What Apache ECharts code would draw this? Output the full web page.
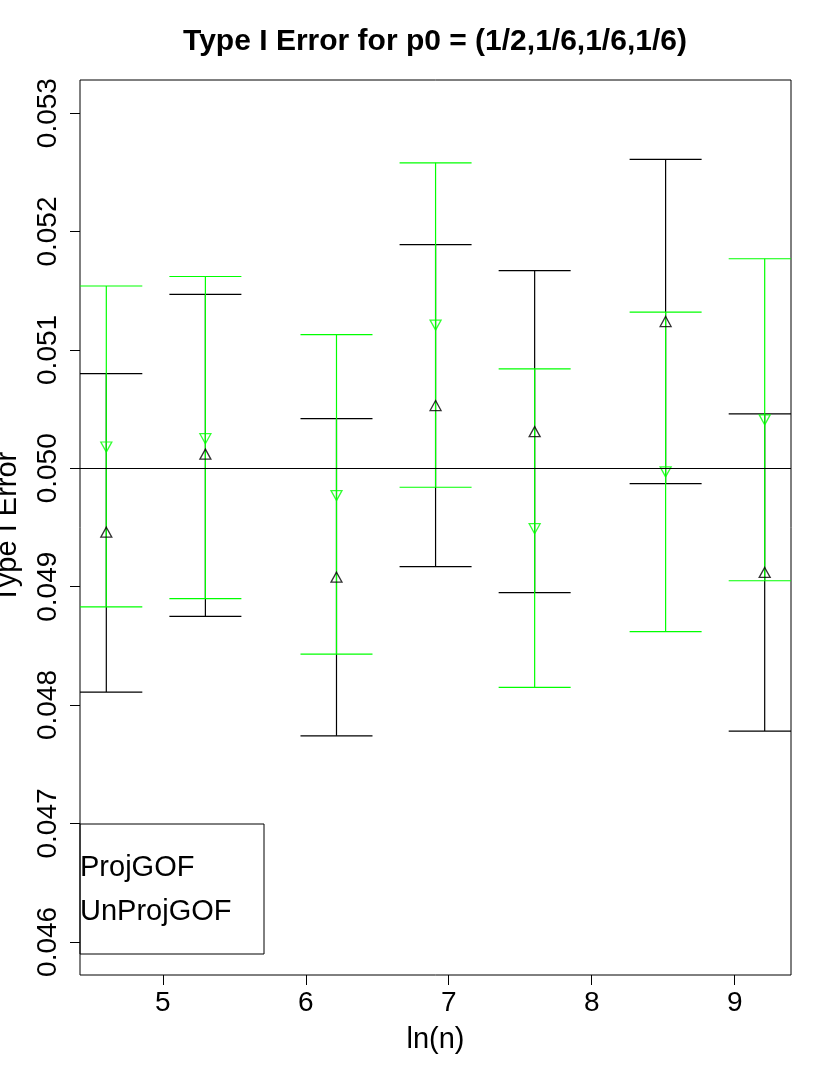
<!DOCTYPE html>
<html>
<head>
    <meta charset="utf-8">
    <title>Type I Error</title>
    <style>
        html, body { margin: 0; padding: 0; background: #fff; }
        #main { width: 830px; height: 1075px; }
    </style>
</head>
<body>
<div id="main"></div>
<script type="text/javascript" src="https://cdn.jsdelivr.net/npm/echarts@6/dist/echarts.min.js"></script>
<script type="text/javascript">
    // ln(n) positions
    var lnN = [4.605, 5.298, 6.215, 6.908, 7.601, 8.517, 9.210];
    // ProjGOF (black, triangle up)
    var projMean  = [0.04946, 0.05012, 0.04908, 0.05053, 0.05031, 0.05124, 0.04912];
    var projLower = [0.04811, 0.04875, 0.04774, 0.04917, 0.04895, 0.04987, 0.04778];
    var projUpper = [0.05080, 0.05147, 0.05042, 0.05189, 0.05167, 0.05261, 0.05046];
    // UnProjGOF (green, triangle down)
    var unprojMean  = [0.05018, 0.05025, 0.04977, 0.05121, 0.04949, 0.04997, 0.05041];
    var unprojLower = [0.04883, 0.04890, 0.04843, 0.04984, 0.04815, 0.04862, 0.04905];
    var unprojUpper = [0.05154, 0.05162, 0.05113, 0.05258, 0.05084, 0.05132, 0.05177];
    // tick labels
    var xTicks = [5, 6, 7, 8, 9];
    var yTicks = [0.046, 0.047, 0.048, 0.049, 0.050, 0.051, 0.052, 0.053];

    var FONT = "'Liberation Sans', Arial, Helvetica, sans-serif";
    var GREEN = '#00ff00';

    function points(ys) {
        var out = [];
        for (var i = 0; i < lnN.length; i++) out.push([lnN[i], ys[i]]);
        return out;
    }
    function bars(lo, hi) {
        var out = [];
        for (var i = 0; i < lnN.length; i++) out.push([lnN[i], lo[i], hi[i]]);
        return out;
    }
    function barRenderer(color) {
        return function (params, api) {
            var x = api.value(0);
            var top = api.coord([x, api.value(2)]);
            var bot = api.coord([x, api.value(1)]);
            var half = 36;
            var style = { stroke: color, lineWidth: 1.2 };
            return {
                type: 'group',
                children: [
                    { type: 'line', shape: { x1: top[0], y1: top[1], x2: bot[0], y2: bot[1] }, style: style },
                    { type: 'line', shape: { x1: top[0] - half, y1: top[1], x2: top[0] + half, y2: top[1] }, style: style },
                    { type: 'line', shape: { x1: bot[0] - half, y1: bot[1], x2: bot[0] + half, y2: bot[1] }, style: style }
                ]
            };
        };
    }

    var myChart = echarts.init(document.getElementById('main'));
    var option = {
        animation: false,
        backgroundColor: '#fff',
        title: {
            text: 'Type I Error for p0 = (1/2,1/6,1/6,1/6)',
            left: 435,
            top: 27,
            padding: 0,
            textAlign: 'center',
            textStyle: { fontFamily: FONT, fontSize: 30, fontWeight: 'bold', color: '#000' }
        },
        legend: {
            left: 75,
            top: 824,
            orient: 'vertical',
            icon: 'none',
            itemWidth: 0,
            itemHeight: 30,
            itemGap: 14,
            padding: [29, 0, 0, 0],
            selectedMode: false,
            data: ['ProjGOF', 'UnProjGOF'],
            textStyle: { fontFamily: FONT, fontSize: 29, color: '#000', lineHeight: 30 }
        },
        graphic: [{
            type: 'rect',
            shape: { x: 80, y: 824, width: 184, height: 130 },
            style: { fill: 'none', stroke: '#000', lineWidth: 1 },
            z: 10
        }],
        grid: {
            left: 80, right: 39, top: 80, bottom: 100,
            containLabel: false,
            outerBoundsMode: 'none',
            show: true, borderColor: '#000', borderWidth: 1,
            backgroundColor: 'transparent'
        },
        xAxis: {
            type: 'value',
            min: 4.421, max: 9.394,
            name: 'ln(n)',
            nameLocation: 'middle',
            nameGap: 50,
            nameTextStyle: { fontFamily: FONT, fontSize: 29, color: '#000' },
            axisLine: { show: false },
            splitLine: { show: false },
            axisTick: { show: true, length: 10, lineStyle: { color: '#000' }, customValues: xTicks },
            axisLabel: {
                fontFamily: FONT, fontSize: 28, color: '#000', margin: 14,
                customValues: xTicks,
                formatter: function (v) { return String(v); }
            }
        },
        yAxis: {
            type: 'value',
            min: 0.04572, max: 0.05328,
            name: 'Type I Error',
            nameLocation: 'middle',
            nameRotate: 90,
            nameGap: 58,
            nameTextStyle: { fontFamily: FONT, fontSize: 29, color: '#000' },
            axisLine: { show: false },
            splitLine: { show: false },
            axisTick: { show: true, length: 10, lineStyle: { color: '#000' }, customValues: yTicks },
            axisLabel: {
                fontFamily: FONT, fontSize: 28, color: '#000', margin: 18, rotate: 90,
                customValues: yTicks,
                formatter: function (v) { return v.toFixed(3); }
            }
        },
        series: [{
            name: 'ProjGOF',
            type: 'custom',
            clip: true,
            renderItem: barRenderer('#000'),
            data: bars(projLower, projUpper),
            itemStyle: { color: '#000' },
            markLine: {
                silent: true,
                symbol: 'none',
                label: { show: false },
                lineStyle: { color: '#000', type: 'solid', width: 1.2 },
                data: [{ yAxis: 0.05 }]
            }
        }, {
            name: 'ProjGOF',
            type: 'scatter',
            symbol: 'triangle',
            symbolSize: [11, 10],
            itemStyle: { color: 'rgba(0,0,0,0)', borderColor: '#000', borderWidth: 1.3 },
            data: points(projMean)
        }, {
            name: 'UnProjGOF',
            type: 'custom',
            clip: true,
            renderItem: barRenderer(GREEN),
            itemStyle: { color: GREEN },
            data: bars(unprojLower, unprojUpper)
        }, {
            name: 'UnProjGOF',
            type: 'scatter',
            symbol: 'triangle',
            symbolRotate: 180,
            symbolSize: [11, 10],
            itemStyle: { color: 'rgba(0,0,0,0)', borderColor: GREEN, borderWidth: 1.3 },
            data: points(unprojMean)
        }]
    };
    myChart.setOption(option);
</script>
</body>
</html>
